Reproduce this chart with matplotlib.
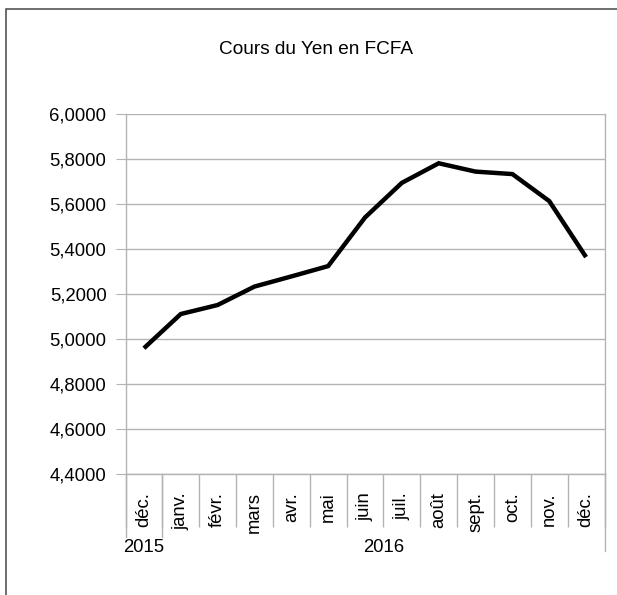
import matplotlib
matplotlib.use("Agg")
import matplotlib.pyplot as plt
import numpy as np
from matplotlib.patches import Rectangle
from matplotlib.lines import Line2D
from matplotlib.ticker import FuncFormatter, FixedLocator

plt.rcParams['font.family'] = ['Liberation Sans', 'DejaVu Sans']

months = ["déc.", "janv.", "févr.", "mars", "avr.", "mai", "juin", "juil.",
          "août", "sept.", "oct.", "nov.", "déc."]
years = ["2015", "2016"]
year_spans = [(0, 0), (1, 12)]
values = [4.959, 5.111, 5.151, 5.233, 5.278, 5.324, 5.540, 5.694,
          5.781, 5.744, 5.733, 5.613, 5.364]
title = "Cours du Yen en FCFA"

FS = 13.3
W, H = 617, 595
fig = plt.figure(figsize=(W / 100, H / 100), dpi=100)

# outer frame
fig.patches.append(Rectangle((6 / W, -0.05), 1.2, 1 - 9.5 / H + 0.05,
                             transform=fig.transFigure, fill=False,
                             edgecolor="#555555", linewidth=1.2))

top_px, bot_px = 114, 474
ax = fig.add_axes([125.5 / W, 1 - bot_px / H, (604.5 - 125.5) / W, (bot_px - top_px) / H])
x = np.arange(len(months))
ax.plot(x, values, color="black", linewidth=3.2, solid_joinstyle="miter",
        solid_capstyle="butt")

ax.set_xlim(-0.5, len(months) - 0.5)
ax.set_ylim(4.4, 6.0)
ax.set_yticks(np.arange(4.4, 6.0001, 0.2))
ax.yaxis.set_major_formatter(FuncFormatter(lambda v, p: f"{v:.4f}".replace(".", ",")))
ax.grid(axis="y", color="#b3b3b3", linewidth=1.0)
ax.set_axisbelow(True)

for s in ["top", "right", "left", "bottom"]:
    ax.spines[s].set_color("#b3b3b3")
    ax.spines[s].set_linewidth(1.0)
ax.spines["top"].set_visible(False)

ax.tick_params(axis="y", length=7.2, color="#b3b3b3", labelsize=FS, pad=6.5,
               labelcolor="black")
ax.set_xticks(x)
ax.set_xticklabels(months, rotation=90, fontsize=FS)
ax.tick_params(axis="x", which="major", length=0, pad=13)
ax.xaxis.set_minor_locator(FixedLocator(np.arange(-0.5, len(months), 1.0)))
ax.tick_params(axis="x", which="minor", length=38, color="#b3b3b3", width=1.0)

# longer separators of the year level
span_px = bot_px - top_px
for xb, depth_px in [(-0.5, 64), (0.5, 64), (len(months) - 0.5, 77)]:
    ax.add_line(Line2D([xb, xb], [0, -depth_px / span_px],
                       transform=ax.get_xaxis_transform(), color="#b3b3b3",
                       linewidth=1.0, clip_on=False))

for name, (a, b) in zip(years, year_spans):
    ax.text((a + b) / 2, -(547 - bot_px) / span_px, name,
            transform=ax.get_xaxis_transform(),
            ha="center", va="center", fontsize=FS,
            bbox=dict(facecolor="white", edgecolor="none", pad=0.5))

fig.text(316 / W, 1 - 50 / H, title, ha="center", va="center", fontsize=13.7)

fig.savefig("out.png", dpi=100)
